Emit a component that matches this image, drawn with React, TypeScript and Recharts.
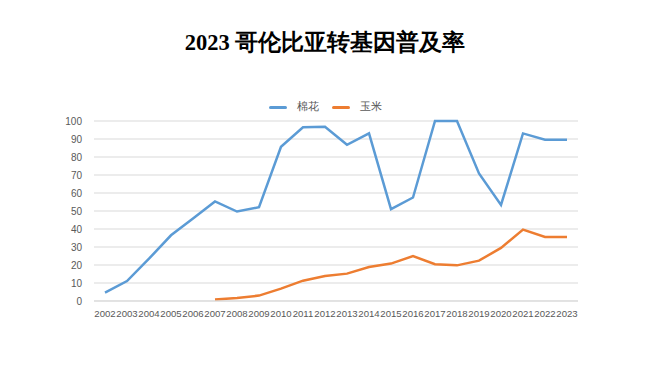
import React from 'react';
import { LineChart, Line, XAxis, YAxis, CartesianGrid } from 'recharts';

const years = ['2002','2003','2004','2005','2006','2007','2008','2009','2010','2011','2012','2013','2014','2015','2016','2017','2018','2019','2020','2021','2022','2023'];
const cotton = [4.7, 11.1, 23.5, 36.5, 45.8, 55.3, 49.7, 52.1, 85.7, 96.5, 96.8, 86.8, 93.1, 51, 57.5, 100, 100, 70.9, 53.4, 93.1, 89.6, 89.6];
const maize: (number | null)[] = [null, null, null, null, null, 0.9, 1.7, 3, 6.9, 11.3, 13.9, 15.2, 18.9, 20.8, 25, 20.4, 19.8, 22.4, 29.5, 39.7, 35.6, 35.6];
const yTicks = [0, 10, 20, 30, 40, 50, 60, 70, 80, 90, 100];
const title = '2023 哥伦比亚转基因普及率';
const seriesNames = ['棉花', '玉米'];
const colors = ['#5b9bd5', '#ed7d31'];

const data = years.map((y, i) => ({ year: y, cotton: cotton[i], maize: maize[i] }));

export default function App() {
  return (
    <div style={{ position: 'absolute', left: 0, top: 0, width: 650, height: 365, background: '#ffffff' }}>
      <div style={{ position: 'absolute', top: 27, left: 0, width: 650, textAlign: 'center', fontFamily: 'serif', fontWeight: 'bold', fontSize: 22.5, color: '#000' }}>
        {title}
      </div>
      <div style={{ position: 'absolute', top: 100, left: 0, width: 650, display: 'flex', justifyContent: 'center', alignItems: 'center', fontFamily: 'serif', fontSize: 10.5, color: '#595959' }}>
        {seriesNames.map((n, i) => (
          <div key={n} style={{ display: 'flex', alignItems: 'center', marginRight: i === 0 ? 13 : 0 }}>
            <div style={{ width: 18, height: 3, borderRadius: 2, background: colors[i], marginRight: 10 }} />
            <span>{n}</span>
          </div>
        ))}
      </div>
      <LineChart width={650} height={365} data={data} margin={{ top: 121, right: 72, bottom: 34, left: 64 }}>
        <CartesianGrid horizontal vertical={false} stroke="#d9d9d9" strokeWidth={1} />
        <XAxis dataKey="year" interval={0} tickLine={false} axisLine={{ stroke: '#d9d9d9' }} padding={{ left: 11, right: 11 }} tick={{ fontSize: 9.6, fill: '#595959', fontFamily: 'Liberation Sans' }} tickMargin={3} height={30} />
        <YAxis domain={[0, 100]} ticks={yTicks} width={30} tickLine={false} axisLine={false} tick={{ fontSize: 10, fill: '#595959', fontFamily: 'Liberation Sans' }} tickMargin={6} interval={0} />
        <Line type="linear" dataKey="cotton" name={seriesNames[0]} stroke={colors[0]} strokeWidth={2.5} dot={false} isAnimationActive={false} />
        <Line type="linear" dataKey="maize" name={seriesNames[1]} stroke={colors[1]} strokeWidth={2.5} dot={false} isAnimationActive={false} />
      </LineChart>
    </div>
  );
}
